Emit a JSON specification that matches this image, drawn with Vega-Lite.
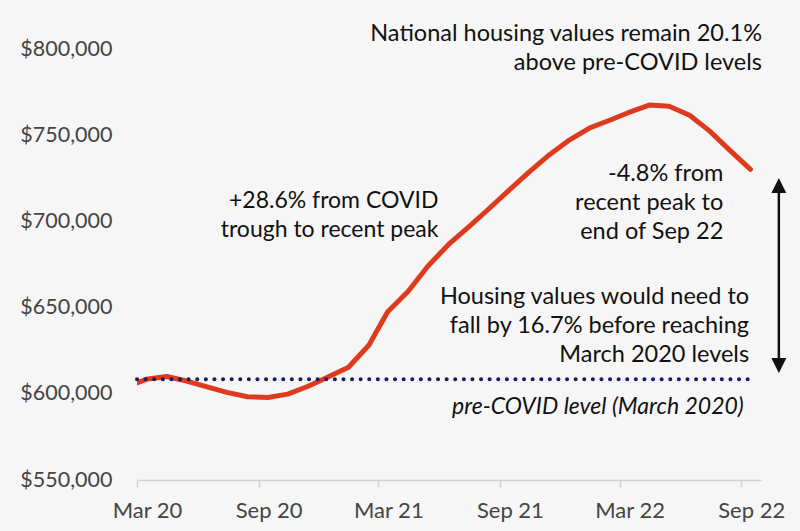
{
  "$schema": "https://vega.github.io/schema/vega-lite/v6.json",
  "autosize": "none",
  "width": 624,
  "height": 431,
  "padding": {"left": 137, "top": 49, "right": 39, "bottom": 51},
  "background": "#f6f6f6",
  "config": {
    "view": {"stroke": null},
    "font": "Lato",
    "text": {"font": "Lato"}
  },
  "datasets": {
    "values": [
      {"date": "2020-02-15", "value": 604300},
      {"date": "2020-03-15", "value": 608400},
      {"date": "2020-04-15", "value": 610000},
      {"date": "2020-05-15", "value": 607400},
      {"date": "2020-06-15", "value": 604000},
      {"date": "2020-07-15", "value": 600800},
      {"date": "2020-08-15", "value": 598300},
      {"date": "2020-09-15", "value": 597900},
      {"date": "2020-10-15", "value": 599800},
      {"date": "2020-11-15", "value": 604400},
      {"date": "2020-12-15", "value": 609800},
      {"date": "2021-01-15", "value": 615400},
      {"date": "2021-02-15", "value": 628300},
      {"date": "2021-03-15", "value": 647500},
      {"date": "2021-04-15", "value": 659300},
      {"date": "2021-05-15", "value": 674000},
      {"date": "2021-06-15", "value": 686500},
      {"date": "2021-07-15", "value": 696500},
      {"date": "2021-08-15", "value": 707200},
      {"date": "2021-09-15", "value": 718100},
      {"date": "2021-10-15", "value": 728600},
      {"date": "2021-11-15", "value": 738700},
      {"date": "2021-12-15", "value": 747200},
      {"date": "2022-01-15", "value": 754300},
      {"date": "2022-02-15", "value": 758800},
      {"date": "2022-03-15", "value": 763200},
      {"date": "2022-04-15", "value": 767500},
      {"date": "2022-05-15", "value": 766800},
      {"date": "2022-06-15", "value": 761600},
      {"date": "2022-07-15", "value": 752500},
      {"date": "2022-08-15", "value": 741200},
      {"date": "2022-09-15", "value": 730200}
    ],
    "one": [{}]
  },
  "layer": [
    {
      "data": {"name": "values"},
      "mark": {"type": "line", "color": "#de3a1d", "strokeWidth": 5, "strokeCap": "round", "strokeJoin": "round", "clip": true},
      "encoding": {
        "x": {
          "field": "date", "type": "temporal",
          "scale": {"type": "utc", "domain": [{"year": 2020, "month": 3, "date": 1, "utc": true}, {"year": 2022, "month": 10, "date": 1, "utc": true}]},
          "axis": {
            "title": null,
            "labelExpr": "utcFormat(datum.value, '%b %y')",
            "values": [
              {"year": 2020, "month": 3, "date": 1, "utc": true},
              {"year": 2020, "month": 9, "date": 1, "utc": true},
              {"year": 2021, "month": 3, "date": 1, "utc": true},
              {"year": 2021, "month": 9, "date": 1, "utc": true},
              {"year": 2022, "month": 3, "date": 1, "utc": true},
              {"year": 2022, "month": 9, "date": 1, "utc": true}
            ],
            "grid": false,
            "domainColor": "#d2d2d2",
            "domainWidth": 1.5,
            "tickColor": "#d2d2d2",
            "tickWidth": 1.5,
            "tickSize": 7,
            "labelFont": "Lato",
            "labelFontSize": 22,
            "labelColor": "#444444",
            "labelOffset": 10,
            "labelPadding": 13,
            "labelFlush": false,
            "labelOverlap": false
          }
        },
        "y": {
          "field": "value", "type": "quantitative",
          "scale": {"domain": [550000, 800000], "zero": false, "nice": false},
          "axis": {
            "title": null,
            "values": [550000, 600000, 650000, 700000, 750000, 800000],
            "format": "$,.0f",
            "grid": false,
            "domain": false,
            "ticks": false,
            "tickSize": 0,
            "labelFont": "Lato",
            "labelFontSize": 21.5,
            "labelColor": "#444444",
            "labelPadding": 25
          }
        }
      }
    },
    {
      "data": {"name": "one"},
      "mark": {"type": "rule", "color": "#1b1a6b", "strokeWidth": 4, "strokeCap": "round", "strokeDash": [0.1, 8.5]},
      "encoding": {
        "x": {"datum": {"year": 2020, "month": 3, "date": 1, "utc": true}, "type": "temporal"},
        "x2": {"datum": {"year": 2022, "month": 9, "date": 11, "utc": true}},
        "y": {"datum": 608400, "type": "quantitative"}
      }
    },
    {
      "data": {"name": "one"},
      "mark": {"type": "rule", "color": "#111111", "strokeWidth": 2.5},
      "encoding": {
        "x": {"datum": {"year": 2022, "month": 10, "date": 28, "utc": true}, "type": "temporal"},
        "y": {"datum": 720800, "type": "quantitative"},
        "y2": {"datum": 616400}
      }
    },
    {
      "data": {"name": "one"},
      "mark": {"type": "point", "shape": "M0,-1L1,1L-1,1Z", "size": 225, "filled": true, "color": "#111111", "opacity": 1, "strokeWidth": 0},
      "encoding": {
        "x": {"datum": {"year": 2022, "month": 10, "date": 28, "utc": true}, "type": "temporal"},
        "y": {"datum": 720800, "type": "quantitative"}
      }
    },
    {
      "data": {"name": "one"},
      "mark": {"type": "point", "shape": "M0,1L1,-1L-1,-1Z", "size": 225, "filled": true, "color": "#111111", "opacity": 1, "strokeWidth": 0},
      "encoding": {
        "x": {"datum": {"year": 2022, "month": 10, "date": 28, "utc": true}, "type": "temporal"},
        "y": {"datum": 616400, "type": "quantitative"}
      }
    },
    {
      "data": {"name": "one"},
      "mark": {"type": "text", "align": "right", "baseline": "middle", "fontSize": 23.5, "lineHeight": 29, "color": "#111111", "dx": 1},
      "encoding": {
        "x": {"datum": {"year": 2022, "month": 10, "date": 1, "utc": true}, "type": "temporal"},
        "y": {"datum": 808700, "type": "quantitative"},
        "text": {"value": ["National housing values remain 20.1%", "above pre-COVID levels"]}
      }
    },
    {
      "data": {"name": "one"},
      "mark": {"type": "text", "align": "right", "baseline": "middle", "fontSize": 23, "lineHeight": 29, "color": "#111111"},
      "encoding": {
        "x": {"datum": {"year": 2021, "month": 5, "date": 31, "utc": true}, "type": "temporal"},
        "y": {"datum": 712000, "type": "quantitative"},
        "text": {"value": ["+28.6% from COVID", "trough to recent peak"]}
      }
    },
    {
      "data": {"name": "one"},
      "mark": {"type": "text", "align": "right", "baseline": "middle", "fontSize": 23.5, "lineHeight": 29, "color": "#111111"},
      "encoding": {
        "x": {"datum": {"year": 2022, "month": 8, "date": 5, "utc": true}, "type": "temporal"},
        "y": {"datum": 727500, "type": "quantitative"},
        "text": {"value": ["-4.8% from", "recent peak to", "end of Sep 22"]}
      }
    },
    {
      "data": {"name": "one"},
      "mark": {"type": "text", "align": "right", "baseline": "middle", "fontSize": 23.5, "lineHeight": 29, "color": "#111111"},
      "encoding": {
        "x": {"datum": {"year": 2022, "month": 9, "date": 13, "utc": true}, "type": "temporal"},
        "y": {"datum": 656300, "type": "quantitative"},
        "text": {"value": ["Housing values would need to", "fall by 16.7% before reaching", "March 2020 levels"]}
      }
    },
    {
      "data": {"name": "one"},
      "mark": {"type": "text", "align": "right", "baseline": "middle", "fontSize": 23, "fontStyle": "italic", "color": "#111111"},
      "encoding": {
        "x": {"datum": {"year": 2022, "month": 9, "date": 5, "utc": true}, "type": "temporal"},
        "y": {"datum": 592600, "type": "quantitative"},
        "text": {"value": "pre-COVID level (March 2020)"}
      }
    }
  ]
}
